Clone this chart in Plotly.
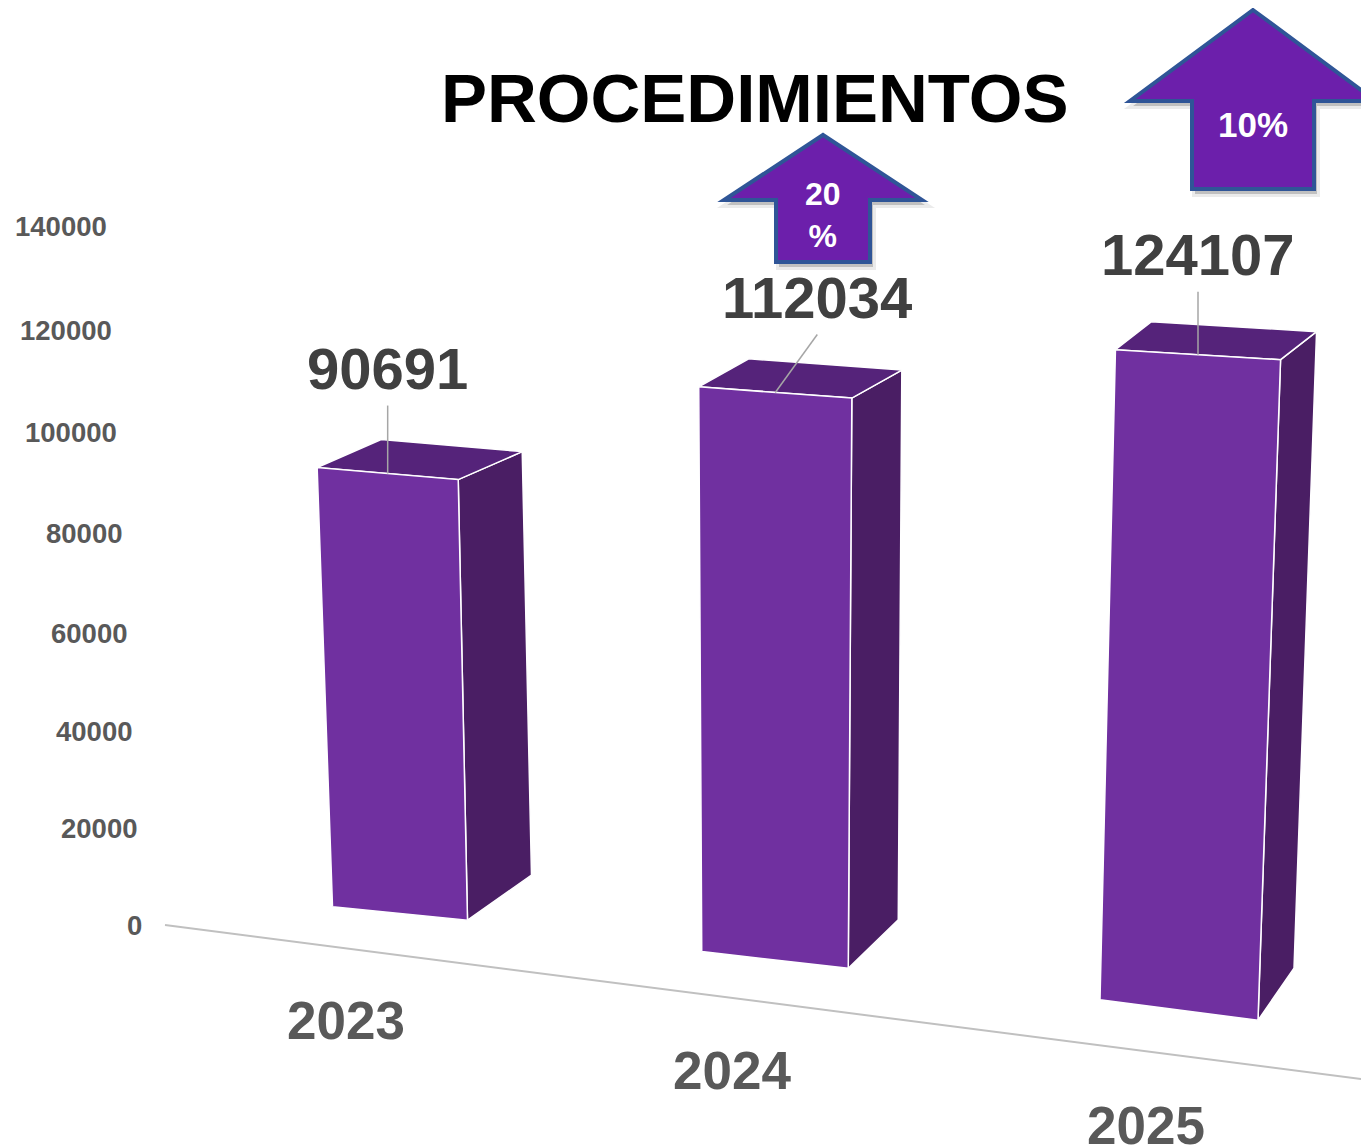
import plotly.graph_objects as go

W, H = 1369, 1146
PAGE_MARGIN = 8  # body margin of the html page, the axes are set to page pixels

TITLE = "PROCEDIMIENTOS"
YEARS = ["2023", "2024", "2025"]
PROCEDIMIENTOS = [90691, 112034, 124107]
Y_TICKS = [0, 20000, 40000, 60000, 80000, 100000, 120000, 140000]
GROWTH_LABELS = ["20<br>%", "10%"]

FRONT = "#7030a0"
SIDE = "#4a1e64"
TOP = "#55237a"
GREY = "#595959"
DARK = "#404040"
ARROW_FILL = "#6c1fab"
ARROW_LINE = "#2f5597"
FONT = "Liberation Sans, Arial"

# the picture is a tilted 3d column chart, so every value goes through a
# small hand tuned perspective before it lands on the (pixel) axes
FLOOR_X0, FLOOR_Y0, FLOOR_SLOPE = 165, 925, 0.1287


def bar_geometry(i, value):
    bx = 400 + 360.5 * i + 14.5 * i ** 2  # centre of the front foot
    by = 863.8 + 0.124 * bx
    wb = 135 + 11.5 * i
    wt = wb * 1.045
    h = value * (4.85e-3 + 0.215e-3 * i)
    tx = bx + (-0.028 + 0.0285 * i) * h
    ty = by - h
    s_top = 0.086 - 0.013 * i
    s_bot = 0.10 + 0.015 * i
    fbl = (bx - wb / 2, by - s_bot * wb / 2)
    fbr = (bx + wb / 2, by + s_bot * wb / 2)
    ftl = (tx - wt / 2, ty - s_top * wt / 2)
    ftr = (tx + wt / 2, ty + s_top * wt / 2)
    ddx = 64 - 14 * i
    btl = (ftl[0] + ddx, ftl[1] - 28)
    btr = (ftr[0] + ddx, ftr[1] - 28)
    bbr = (fbr[0] + ddx, fbr[1] - 45 - 3.5 * i)
    return {
        "front": [fbl, ftl, ftr, fbr],
        "side": [fbr, ftr, btr, bbr],
        "top": [ftl, btl, btr, ftr],
        "foot": (bx, by),
        "head": (tx, ty),
    }


def tick_y(v):
    return FLOOR_Y0 - v * (4.77e-3 + 1.55e-9 * v)


def poly(points, color):
    xs = [p[0] for p in points] + [points[0][0]]
    ys = [p[1] for p in points] + [points[0][1]]
    return go.Scatter(x=xs, y=ys, mode="lines", fill="toself", fillcolor=color,
                      line=dict(color="white", width=1.5), hoverinfo="skip")


def arrow_path(cx, tip, head_w, head_h, shaft_w, shaft_h, dx=0, dy=0):
    cx += dx
    tip += dy
    pts = [(cx, tip), (cx + head_w, tip + head_h), (cx + shaft_w, tip + head_h),
           (cx + shaft_w, tip + head_h + shaft_h), (cx - shaft_w, tip + head_h + shaft_h),
           (cx - shaft_w, tip + head_h), (cx - head_w, tip + head_h)]
    return "M " + " L ".join(f"{x:.1f},{y:.1f}" for x, y in pts) + " Z"


fig = go.Figure()
annotations = []
shapes = []

# floor line
shapes.append(dict(type="line", xref="x", yref="y", x0=FLOOR_X0, y0=FLOOR_Y0,
                   x1=W + PAGE_MARGIN, y1=FLOOR_Y0 + FLOOR_SLOPE * (W + PAGE_MARGIN - FLOOR_X0),
                   line=dict(color="#c0c0c0", width=2), layer="below"))

label_offsets = [(0, -105), (42, -95), (0, -100)]
for i, (year, value) in enumerate(zip(YEARS, PROCEDIMIENTOS)):
    g = bar_geometry(i, value)
    fig.add_trace(poly(g["side"], SIDE))
    fig.add_trace(poly(g["top"], TOP))
    fig.add_trace(poly(g["front"], FRONT))

    tx, ty = g["head"]
    lx, ly = tx + label_offsets[i][0], ty + label_offsets[i][1]
    fig.add_trace(go.Scatter(x=[lx, tx], y=[ly + 37, ty], mode="lines",
                             line=dict(color="#a6a6a6", width=1.5), hoverinfo="skip"))
    annotations.append(dict(x=lx, y=ly, text=f"<b>{value}</b>", showarrow=False,
                            font=dict(size=58, color=DARK, family=FONT)))

    bx, by = g["foot"]
    annotations.append(dict(x=bx - 54 + 10.5 * i, y=by + 107 + 4 * i, text=f"<b>{year}</b>",
                            showarrow=False, font=dict(size=53, color=GREY, family=FONT)))

for v in Y_TICKS:
    annotations.append(dict(x=144 - 5 * v / 20000, y=tick_y(v), text=f"<b>{v}</b>",
                            xanchor="right", showarrow=False,
                            font=dict(size=27.5, color=GREY, family=FONT)))

# growth arrows
arrows = [
    dict(cx=823, tip=135, head_w=99, head_h=65, shaft_w=47, shaft_h=62, text_y=215, size=32),
    dict(cx=1253, tip=10, head_w=123, head_h=91, shaft_w=61, shaft_h=88, text_y=124, size=35),
]
for a, label in zip(arrows, GROWTH_LABELS):
    geo = (a["cx"], a["tip"], a["head_w"], a["head_h"], a["shaft_w"], a["shaft_h"])
    shapes.append(dict(type="path", xref="x", yref="y", path=arrow_path(*geo, dx=3, dy=5),
                       fillcolor="rgba(0,0,0,0.18)", line=dict(color="rgba(0,0,0,0.08)", width=6)))
    shapes.append(dict(type="path", xref="x", yref="y", path=arrow_path(*geo),
                       fillcolor=ARROW_FILL, line=dict(color=ARROW_LINE, width=4)))
    annotations.append(dict(x=a["cx"], y=a["text_y"], text=f"<b>{label}</b>", showarrow=False,
                            font=dict(size=a["size"], color="white", family=FONT)))

annotations.append(dict(x=754, y=98, text=f"<b>{TITLE}</b>", showarrow=False,
                        font=dict(size=69, color="black", family=FONT)))

fig.update_layout(
    width=W, height=H,
    margin=dict(l=0, r=0, t=0, b=0),
    paper_bgcolor="white", plot_bgcolor="white",
    showlegend=False,
    xaxis=dict(range=[PAGE_MARGIN, W + PAGE_MARGIN], visible=False, fixedrange=True),
    yaxis=dict(range=[H + PAGE_MARGIN, PAGE_MARGIN], visible=False, fixedrange=True),
    shapes=shapes,
    annotations=annotations,
)

fig.write_html("out.html")
